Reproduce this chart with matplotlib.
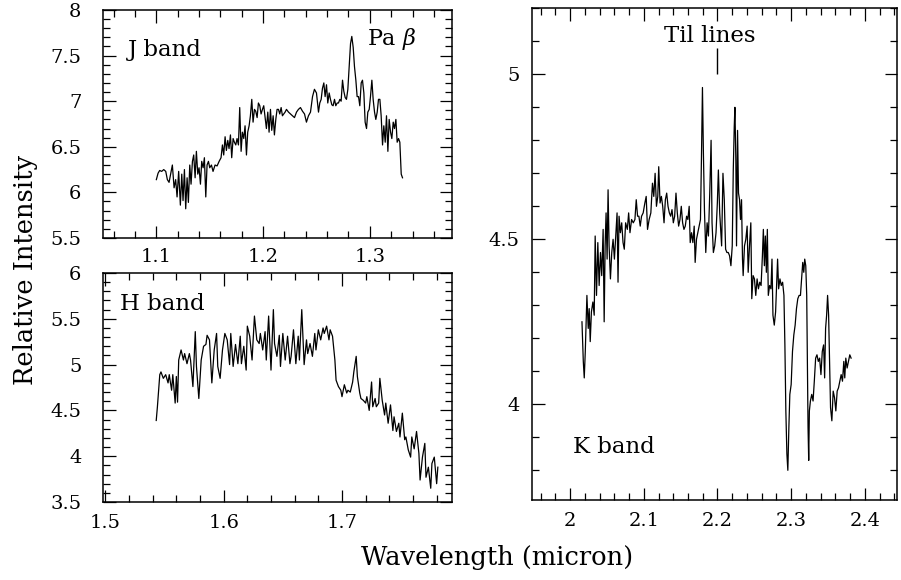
import matplotlib
matplotlib.use("Agg")
from matplotlib import pyplot as plt
from matplotlib.ticker import MultipleLocator, FuncFormatter

plt.rcParams['font.family'] = 'DejaVu Serif'
plt.rcParams['mathtext.fontset'] = 'dejavuserif'

# J band spectrum (micron, relative intensity)
j_wave = [1.1000, 1.1016, 1.1031, 1.1050, 1.1069, 1.1088, 1.1103, 1.1119, 1.1134, 1.1150,
          1.1166, 1.1181, 1.1194, 1.1209, 1.1225, 1.1238, 1.1250, 1.1263, 1.1275, 1.1288,
          1.1300, 1.1313, 1.1325, 1.1338, 1.1350, 1.1363, 1.1375, 1.1388, 1.1400, 1.1413,
          1.1425, 1.1438, 1.1450, 1.1463, 1.1475, 1.1488, 1.1500, 1.1516, 1.1531, 1.1550,
          1.1569, 1.1588, 1.1606, 1.1619, 1.1631, 1.1644, 1.1656, 1.1669, 1.1681, 1.1694,
          1.1706, 1.1719, 1.1731, 1.1744, 1.1756, 1.1769, 1.1781, 1.1794, 1.1806, 1.1819,
          1.1831, 1.1844, 1.1856, 1.1869, 1.1881, 1.1894, 1.1906, 1.1919, 1.1931, 1.1944,
          1.1956, 1.1969, 1.1981, 1.1994, 1.2006, 1.2019, 1.2031, 1.2044, 1.2056, 1.2069,
          1.2081, 1.2094, 1.2106, 1.2119, 1.2131, 1.2144, 1.2156, 1.2169, 1.2181, 1.2194,
          1.2206, 1.2219, 1.2238, 1.2256, 1.2275, 1.2294, 1.2313, 1.2331, 1.2350, 1.2369,
          1.2388, 1.2406, 1.2425, 1.2444, 1.2463, 1.2481, 1.2500, 1.2519, 1.2531, 1.2544,
          1.2556, 1.2569, 1.2581, 1.2594, 1.2606, 1.2619, 1.2631, 1.2644, 1.2656, 1.2669,
          1.2681, 1.2694, 1.2706, 1.2719, 1.2731, 1.2744, 1.2756, 1.2769, 1.2781, 1.2794,
          1.2806, 1.2819, 1.2831, 1.2844, 1.2856, 1.2869, 1.2881, 1.2894, 1.2906, 1.2919,
          1.2931, 1.2944, 1.2956, 1.2969, 1.2981, 1.2994, 1.3006, 1.3019, 1.3031, 1.3044,
          1.3056, 1.3069, 1.3081, 1.3094, 1.3106, 1.3119, 1.3131, 1.3144, 1.3156, 1.3169,
          1.3181, 1.3194, 1.3206, 1.3219, 1.3231, 1.3244, 1.3256, 1.3269, 1.3281, 1.3294,
          1.3306]
j_flux = [6.14, 6.21, 6.24, 6.23, 6.25, 6.23, 6.14, 6.11, 6.20, 6.30,
          6.05, 6.14, 5.95, 6.23, 5.86, 6.20, 5.91, 6.25, 5.82, 6.16,
          5.89, 6.30, 6.09, 6.34, 6.41, 6.16, 6.45, 6.20, 6.27, 6.09,
          6.34, 6.27, 6.38, 5.95, 6.30, 6.34, 6.27, 6.30, 6.23, 6.30,
          6.29, 6.34, 6.38, 6.52, 6.41, 6.61, 6.46, 6.57, 6.48, 6.63,
          6.38, 6.59, 6.55, 6.52, 6.59, 6.52, 6.93, 6.45, 6.66, 6.59,
          6.73, 6.41, 6.66, 6.73, 6.84, 7.02, 6.77, 6.91, 6.89, 6.82,
          6.98, 6.95, 6.86, 6.91, 6.95, 6.82, 6.70, 6.88, 6.66, 6.91,
          6.68, 6.84, 6.63, 6.80, 6.91, 6.91, 6.86, 6.93, 6.84, 6.86,
          6.88, 6.91, 6.88, 6.86, 6.84, 6.82, 6.88, 6.91, 6.93, 6.89,
          6.86, 6.77, 6.84, 6.88, 7.05, 7.13, 7.09, 6.88, 6.98, 7.02,
          7.14, 7.20, 7.05, 7.18, 6.98, 7.09, 7.02, 6.96, 6.95, 7.02,
          6.95, 6.98, 6.98, 7.02, 7.00, 7.23, 7.11, 7.04, 7.02, 7.13,
          7.38, 7.63, 7.71, 7.59, 7.38, 7.23, 7.05, 7.05, 6.95, 7.20,
          7.23, 7.09, 6.77, 6.70, 6.88, 6.91, 7.05, 7.23, 7.02, 6.88,
          6.80, 6.88, 7.02, 7.02, 6.84, 6.52, 6.73, 6.55, 6.84, 6.45,
          6.80, 6.66, 6.59, 6.77, 6.70, 6.80, 6.55, 6.59, 6.55, 6.20,
          6.16]

# H band spectrum
h_wave = [1.543, 1.544, 1.546, 1.547, 1.549, 1.551, 1.553, 1.554, 1.556, 1.557,
          1.559, 1.560, 1.561, 1.562, 1.564, 1.566, 1.567, 1.569, 1.571, 1.572,
          1.574, 1.576, 1.577, 1.579, 1.581, 1.583, 1.585, 1.586, 1.588, 1.590,
          1.592, 1.594, 1.595, 1.597, 1.599, 1.601, 1.603, 1.605, 1.606, 1.608,
          1.610, 1.612, 1.614, 1.615, 1.617, 1.619, 1.620, 1.622, 1.624, 1.626,
          1.628, 1.630, 1.631, 1.633, 1.635, 1.636, 1.638, 1.640, 1.642, 1.643,
          1.645, 1.647, 1.648, 1.650, 1.652, 1.654, 1.656, 1.657, 1.659, 1.661,
          1.663, 1.664, 1.666, 1.668, 1.670, 1.671, 1.673, 1.675, 1.677, 1.678,
          1.680, 1.682, 1.684, 1.685, 1.687, 1.689, 1.690, 1.692, 1.694, 1.695,
          1.697, 1.699, 1.700, 1.702, 1.704, 1.705, 1.707, 1.709, 1.710, 1.712,
          1.713, 1.715, 1.716, 1.718, 1.720, 1.721, 1.723, 1.725, 1.726, 1.728,
          1.729, 1.731, 1.732, 1.734, 1.736, 1.737, 1.739, 1.741, 1.743, 1.744,
          1.746, 1.748, 1.749, 1.751, 1.753, 1.754, 1.756, 1.758, 1.759, 1.761,
          1.763, 1.765, 1.766, 1.768, 1.770, 1.771, 1.773, 1.775, 1.776, 1.778,
          1.780, 1.781]
h_flux = [4.39, 4.54, 4.89, 4.92, 4.85, 4.89, 4.80, 4.89, 4.72, 4.89,
          4.58, 4.87, 4.59, 5.05, 5.16, 5.05, 5.12, 5.01, 5.12, 5.05,
          4.76, 5.36, 4.98, 4.63, 5.05, 5.20, 5.22, 5.32, 5.27, 4.80,
          5.16, 5.34, 4.98, 4.85, 5.16, 5.34, 5.27, 5.00, 5.34, 4.98,
          5.22, 5.01, 5.31, 5.01, 5.20, 4.94, 5.42, 5.31, 5.05, 5.53,
          5.27, 5.23, 5.34, 5.16, 5.36, 5.05, 5.53, 4.94, 5.60, 5.23,
          5.09, 5.32, 4.98, 5.34, 5.05, 5.31, 5.01, 5.09, 5.38, 5.01,
          5.31, 5.05, 5.60, 5.00, 5.27, 5.12, 5.23, 5.09, 5.34, 5.16,
          5.38, 5.27, 5.40, 5.34, 5.42, 5.27, 5.38, 5.31, 5.05, 4.83,
          4.76, 4.72, 4.65, 4.78, 4.69, 4.72, 4.70, 4.81, 4.92, 5.09,
          4.87, 4.69, 4.63, 4.61, 4.58, 4.65, 4.50, 4.81, 4.54, 4.63,
          4.54, 4.58, 4.85, 4.61, 4.45, 4.58, 4.36, 4.56, 4.28, 4.43,
          4.27, 4.36, 4.21, 4.47, 4.18, 4.21, 4.07, 3.99, 4.21, 4.08,
          4.27, 4.03, 3.74, 3.99, 4.14, 3.77, 3.88, 3.65, 3.92, 3.99,
          3.70, 3.88]

# K band spectrum
k_wave = [2.0162, 2.0180, 2.0193, 2.0207, 2.0229, 2.0247, 2.0260, 2.0274, 2.0290, 2.0310,
          2.0328, 2.0341, 2.0359, 2.0377, 2.0395, 2.0413, 2.0430, 2.0449, 2.0463, 2.0476,
          2.0489, 2.0503, 2.0516, 2.0530, 2.0548, 2.0566, 2.0584, 2.0602, 2.0620, 2.0638,
          2.0651, 2.0665, 2.0683, 2.0701, 2.0719, 2.0736, 2.0754, 2.0777, 2.0795, 2.0813,
          2.0835, 2.0858, 2.0880, 2.0898, 2.0916, 2.0934, 2.0952, 2.0970, 2.0992, 2.1015,
          2.1033, 2.1051, 2.1073, 2.1096, 2.1118, 2.1136, 2.1154, 2.1172, 2.1190, 2.1203,
          2.1221, 2.1239, 2.1257, 2.1275, 2.1293, 2.1311, 2.1329, 2.1347, 2.1365, 2.1383,
          2.1401, 2.1419, 2.1437, 2.1455, 2.1473, 2.1491, 2.1509, 2.1527, 2.1545, 2.1563,
          2.1581, 2.1598, 2.1616, 2.1630, 2.1648, 2.1666, 2.1684, 2.1697, 2.1715, 2.1733,
          2.1751, 2.1769, 2.1782, 2.1796, 2.1809, 2.1823, 2.1841, 2.1859, 2.1877, 2.1895,
          2.1913, 2.1926, 2.1944, 2.1962, 2.1980, 2.1998, 2.2012, 2.2030,
          2.2056, 2.2074, 2.2092, 2.2110, 2.2128, 2.2146, 2.2164, 2.2182, 2.2200, 2.2214,
          2.2227, 2.2236, 2.2249, 2.2258, 2.2272, 2.2285, 2.2299, 2.2312, 2.2326, 2.2339,
          2.2348, 2.2366, 2.2384, 2.2402, 2.2416, 2.2434, 2.2452, 2.2465, 2.2483, 2.2501,
          2.2519, 2.2537, 2.2555, 2.2573, 2.2591, 2.2609, 2.2622, 2.2636, 2.2649, 2.2663,
          2.2676, 2.2689, 2.2707, 2.2725, 2.2739, 2.2752, 2.2770, 2.2788, 2.2806, 2.2815,
          2.2829, 2.2847, 2.2865, 2.2883, 2.2901, 2.2914, 2.2927, 2.2941, 2.2954, 2.2968,
          2.2981, 2.2999, 2.3017, 2.3035, 2.3053, 2.3071, 2.3089, 2.3107, 2.3125, 2.3143,
          2.3156, 2.3170, 2.3183, 2.3197, 2.3210, 2.3219, 2.3228, 2.3237, 2.3246, 2.3260,
          2.3278, 2.3296, 2.3313, 2.3331, 2.3349, 2.3367, 2.3385, 2.3403, 2.3421, 2.3439,
          2.3453, 2.3466, 2.3480, 2.3493, 2.3507, 2.3520, 2.3533, 2.3551, 2.3569, 2.3587,
          2.3605, 2.3623, 2.3641, 2.3659, 2.3677, 2.3695, 2.3713, 2.3726, 2.3740, 2.3758,
          2.3776, 2.3794, 2.3812]
k_flux = [4.25, 4.13, 4.08, 4.16, 4.33, 4.23, 4.29, 4.19, 4.28, 4.31,
          4.27, 4.51, 4.33, 4.49, 4.36, 4.46, 4.39, 4.53, 4.25, 4.48,
          4.58, 4.44, 4.65, 4.48, 4.38, 4.46, 4.50, 4.44, 4.51, 4.58,
          4.37, 4.57, 4.52, 4.55, 4.49, 4.47, 4.55, 4.53, 4.58, 4.52,
          4.56, 4.55, 4.56, 4.62, 4.57, 4.57, 4.54, 4.57, 4.58, 4.61,
          4.63, 4.53, 4.56, 4.58, 4.67, 4.63, 4.70, 4.60, 4.63, 4.72,
          4.61, 4.63, 4.60, 4.55, 4.62, 4.64, 4.60, 4.58, 4.57, 4.59,
          4.55, 4.57, 4.64, 4.58, 4.54, 4.56, 4.60, 4.55, 4.53, 4.54,
          4.57, 4.56, 4.60, 4.49, 4.52, 4.49, 4.54, 4.43, 4.50, 4.52,
          4.54, 4.56, 4.74, 4.96, 4.76, 4.59, 4.46, 4.55, 4.51, 4.64,
          4.80, 4.55, 4.46, 4.48, 4.52, 4.61, 4.71, 4.58,
          4.48, 4.70, 4.62, 4.47, 4.46, 4.46, 4.45, 4.42, 4.48, 4.71,
          4.84, 4.90, 4.74, 4.48, 4.83, 4.64, 4.62, 4.56, 4.62, 4.44,
          4.39, 4.48, 4.50, 4.54, 4.40, 4.48, 4.55, 4.32, 4.39, 4.38,
          4.33, 4.38, 4.35, 4.37, 4.36, 4.45, 4.53, 4.42, 4.51, 4.40,
          4.53, 4.33, 4.36, 4.35, 4.44, 4.27, 4.24, 4.28, 4.39, 4.44,
          4.35, 4.38, 4.36, 4.37, 4.33, 4.18, 3.98, 3.85, 3.80, 3.93,
          4.03, 4.06, 4.16, 4.21, 4.24, 4.29, 4.32, 4.33, 4.33, 4.39,
          4.43, 4.40, 4.44, 4.42, 4.33, 4.13, 3.93, 3.83, 3.98, 4.01,
          4.03, 4.01, 4.07, 4.14, 4.15, 4.13, 4.14, 4.09, 4.16, 4.18,
          4.08, 4.23, 4.27, 4.33, 4.27, 4.13, 3.99, 3.95, 4.04, 4.02,
          3.98, 4.04, 4.05, 4.07, 4.09, 4.07, 4.13, 4.08, 4.14, 4.11,
          4.13, 4.15, 4.14]

# Til lines marker in the K band
til_wave = 2.2
til_low, til_high = 5.0, 5.08


def tidy(v, pos):
    return '%g' % round(v, 3)


def style(ax, xpad, ypad):
    ax.xaxis.set_major_locator(MultipleLocator(0.1))
    ax.xaxis.set_minor_locator(MultipleLocator(0.02))
    ax.yaxis.set_major_locator(MultipleLocator(0.5))
    ax.yaxis.set_minor_locator(MultipleLocator(0.1))
    ax.xaxis.set_major_formatter(FuncFormatter(tidy))
    ax.yaxis.set_major_formatter(FuncFormatter(tidy))
    ax.tick_params(which='both', direction='in', top=True, right=True,
                   width=0.9, labelsize=14)
    ax.tick_params(which='major', length=9)
    ax.tick_params(which='minor', length=5)
    ax.tick_params(axis='x', pad=xpad)
    ax.tick_params(axis='y', pad=ypad)
    for s in ax.spines.values():
        s.set_linewidth(1.1)


fig = plt.figure(figsize=(9.01, 5.8), dpi=100)

ax_j = fig.add_axes([0.1143, 0.5897, 0.3874, 0.3931])
ax_j.plot(j_wave, j_flux, color='k', lw=0.9)
ax_j.set_xlim(1.05, 1.377)
ax_j.set_ylim(5.5, 8)
style(ax_j, 7, 15.5)
ax_j.text(1.073, 7.56, 'J band', fontsize=16.5, va='center')
ax_j.text(1.297, 7.68, r'Pa $\beta$', fontsize=16, va='center')

ax_h = fig.add_axes([0.1143, 0.1345, 0.3874, 0.3948])
ax_h.plot(h_wave, h_flux, color='k', lw=0.9)
ax_h.set_xlim(1.498, 1.793)
ax_h.set_ylim(3.5, 6)
style(ax_h, 8.5, 15.5)
ax_h.text(1.5127, 5.66, 'H band', fontsize=16.5, va='center')

ax_k = fig.add_axes([0.5901, 0.1379, 0.4051, 0.8478])
ax_k.plot(k_wave, k_flux, color='k', lw=0.9)
ax_k.set_xlim(1.948, 2.443)
ax_k.set_ylim(3.71, 5.2)
style(ax_k, 8.5, 8.5)
ax_k.text(2.004, 3.87, 'K band', fontsize=16.5, va='center')
ax_k.text(2.189, 5.116, 'Til lines', fontsize=16.5, ha='center', va='center')
ax_k.vlines(til_wave, til_low, til_high, color='k', lw=1.0)

fig.text(0.552, 0.026, 'Wavelength (micron)', ha='center', va='baseline', fontsize=18.5)
fig.text(0.028, 0.534, 'Relative Intensity', rotation=90, ha='center', va='center', fontsize=18.5)

fig.savefig('out.png', dpi=100)
